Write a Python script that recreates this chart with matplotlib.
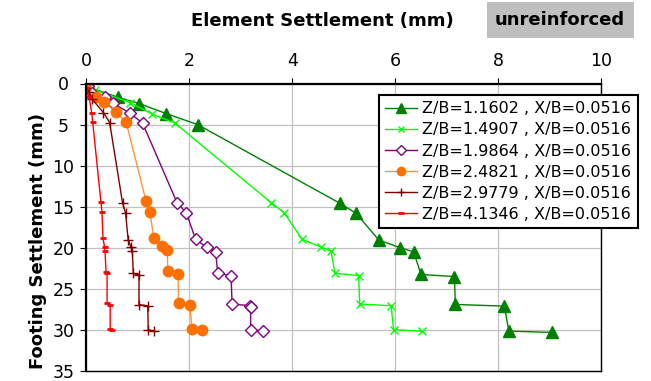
import matplotlib.pyplot as plt
from matplotlib.patches import Rectangle

# element settlement (x, mm) vs footing settlement (y, mm) for each Z/B
labels = ['Z/B=1.1602 , X/B=0.0516', 'Z/B=1.4907 , X/B=0.0516',
          'Z/B=1.9864 , X/B=0.0516', 'Z/B=2.4821 , X/B=0.0516',
          'Z/B=2.9779 , X/B=0.0516', 'Z/B=4.1346 , X/B=0.0516']

x1 = [0.02, 0.61, 1.03, 1.55, 2.16, 4.93, 5.24, 5.68, 6.10, 6.36, 6.50, 7.15, 7.17, 8.12, 8.21, 9.05]
y1 = [0.4, 1.67, 2.45, 3.66, 5.0, 14.6, 15.8, 19.05, 20.0, 20.5, 23.25, 23.5, 26.9, 27.1, 30.15, 30.3]

x2 = [0.02, 0.17, 0.85, 1.27, 1.72, 3.59, 3.84, 4.19, 4.56, 4.75, 4.83, 5.29, 5.31, 5.92, 5.97, 6.52]
y2 = [0.3, 0.8, 2.33, 3.7, 4.82, 14.52, 15.73, 18.97, 19.9, 20.4, 23.1, 23.4, 26.85, 27.05, 29.96, 30.16]

x3 = [0.02, 0.1, 0.36, 0.52, 0.85, 1.09, 1.76, 1.94, 2.12, 2.34, 2.51, 2.55, 2.81, 2.83, 3.18, 3.19, 3.19, 3.43]
y3 = [0.3, 1.1, 1.6, 2.4, 3.64, 4.82, 14.52, 15.73, 18.97, 19.94, 20.46, 23.09, 23.42, 26.88, 27.03, 27.2, 29.96, 30.16]

x4 = [0.0, 0.18, 0.34, 0.57, 0.77, 1.16, 1.23, 1.31, 1.47, 1.57, 1.58, 1.78, 1.79, 2.01, 2.05, 2.24]
y4 = [0.3, 1.6, 2.24, 3.49, 4.7, 14.36, 15.6, 18.85, 19.78, 20.3, 22.88, 23.2, 26.73, 26.97, 29.9, 29.96]

x5 = [0.0, 0.05, 0.11, 0.33, 0.45, 0.70, 0.76, 0.81, 0.86, 0.89, 0.91, 1.02, 1.02, 1.19, 1.20, 1.31]
y5 = [0.5, 1.0, 1.9, 3.55, 4.75, 14.52, 15.82, 19.05, 19.85, 20.39, 23.13, 23.3, 26.93, 27.05, 29.96, 30.16]

x6 = [0.0, 0.05, 0.10, 0.12, 0.28, 0.30, 0.32, 0.35, 0.36, 0.38, 0.40, 0.40, 0.46, 0.46, 0.50]
y6 = [0.58, 1.6, 3.54, 4.7, 14.4, 15.6, 18.85, 19.85, 20.39, 23.0, 23.1, 26.76, 26.93, 29.88, 29.96]

fig = plt.figure(figsize=(6.51, 3.81), dpi=100)
ax = fig.add_axes([86.5/651, 1 - 371/381, 514.5/651, 287.5/381])

ax.plot(x1, y1, color='#008000', lw=1, marker='^', ms=8.5, label=labels[0])
ax.plot(x2, y2, color='#00ff00', lw=1, marker='x', ms=6, mew=1, label=labels[1])
ax.plot(x3, y3, color='#800080', lw=1, marker='D', ms=6, mfc='white', mew=1, label=labels[2])
ax.plot(x4, y4, color='#ff9440', lw=1, marker='o', ms=7.5, mfc='#ff7000', mec='#ff7000', label=labels[3])
ax.plot(x5, y5, color='#800000', lw=1, marker='+', ms=7, mew=1, label=labels[4])
ax.plot(x6, y6, color='#ff0000', lw=1, marker='_', ms=5, mew=2, label=labels[5])

ax.set_xlim(0, 10)
ax.set_ylim(35, 0)
ax.set_xticks(range(0, 11, 2))
ax.set_yticks(range(0, 36, 5))
ax.xaxis.tick_top()
ax.tick_params(axis='x', labelsize=12.5, length=4.5, pad=5, direction='out')
ax.tick_params(axis='y', labelsize=12.5, length=4.5, pad=12, direction='out')
for lab in ax.get_yticklabels():
    lab.set_ha('center')
ax.grid(color='#c0c0c0', lw=0.9)
for s in ['left', 'top']:
    ax.spines[s].set_linewidth(1.6)
for s in ['right', 'bottom']:
    ax.spines[s].set_linewidth(1.0)

leg = ax.legend(loc='upper left', bbox_to_anchor=(379/651, 1 - 95/381),
                bbox_transform=fig.transFigure, borderaxespad=0, fontsize=11.5,
                labelspacing=0.38, handlelength=2.0, handletextpad=0.3,
                fancybox=False, framealpha=1, edgecolor='black', markerscale=0.8)
leg.get_frame().set_linewidth(1.5)

fig.text(322/651, 1 - 21/381, 'Element Settlement (mm)', ha='center', va='center',
         fontsize=13, fontweight='bold')
fig.text(38/651, 1 - 241/381, 'Footing Settlement (mm)', ha='center', va='center',
         rotation=90, fontsize=13, fontweight='bold')
fig.add_artist(Rectangle((487/651, 1 - 38/381), 147/651, 36/381,
                         transform=fig.transFigure, facecolor='#bfbfbf', edgecolor='none'))
fig.text(560/651, 1 - 20/381, 'unreinforced', ha='center', va='center',
         fontsize=13, fontweight='bold')

fig.savefig('out.png', dpi=100)
